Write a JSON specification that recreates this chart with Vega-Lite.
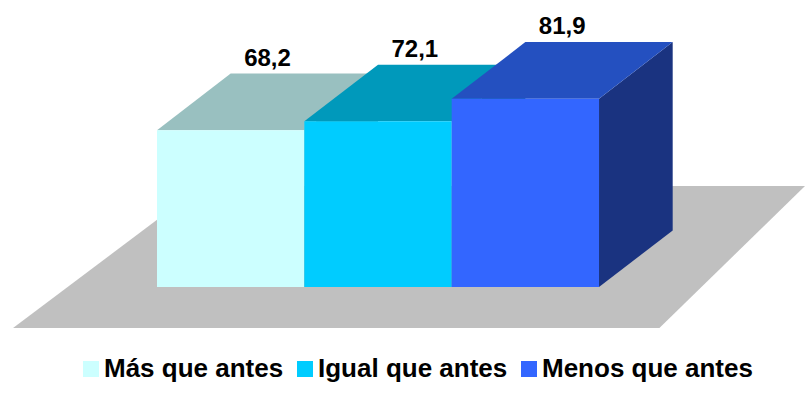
{
  "$schema": "https://vega.github.io/schema/vega-lite/v6.json",
  "width": 805,
  "height": 408,
  "padding": 0,
  "autosize": {"type": "none"},
  "background": "white",
  "config": {"view": {"stroke": null}},
  "datasets": {
    "respuestas": [
      {"categoria": "Más que antes", "valor": 68.2},
      {"categoria": "Igual que antes", "valor": 72.1},
      {"categoria": "Menos que antes", "valor": 81.9}
    ]
  },
  "layer": [
    {
      "data": {"values": [{"parte": "piso"}]},
      "transform": [
        {"calculate": "[0,1]", "as": "k"},
        {"flatten": ["k"]},
        {"calculate": "-17.8 + datum.k*61.7", "as": "fy"},
        {"calculate": "-0.977 + datum.k*1.282", "as": "fx"},
        {"calculate": "3.41 + datum.k*0.988", "as": "fx2"}
      ],
      "mark": {"type": "area", "orient": "horizontal", "color": "#C0C0C0"},
      "encoding": {
        "y": {"field": "fy", "type": "quantitative", "scale": {"domain": [-52.6, 124.8], "nice": false, "zero": false}, "axis": null},
        "x": {"field": "fx", "type": "quantitative", "scale": {"domain": [-1.0656, 4.398], "nice": false, "zero": false}, "axis": null},
        "x2": {"field": "fx2"}
      }
    },
    {
      "data": {"name": "respuestas"},
      "transform": [
        {"window": [{"op": "row_number", "as": "rn"}]},
        {"calculate": "datum.rn - 1", "as": "i"},
        {"calculate": "[0,1]", "as": "k"},
        {"flatten": ["k"]},
        {"calculate": "datum.i + 1 + datum.k*0.5", "as": "sx"},
        {"calculate": "datum.k*24.6", "as": "sy"},
        {"calculate": "datum.valor + datum.k*24.6", "as": "sy2"}
      ],
      "mark": {"type": "area"},
      "encoding": {
        "x": {"field": "sx", "type": "quantitative", "scale": {"domain": [-1.0656, 4.398], "nice": false, "zero": false}, "axis": null},
        "y": {"field": "sy", "type": "quantitative", "scale": {"domain": [-52.6, 124.8], "nice": false, "zero": false}, "axis": null},
        "y2": {"field": "sy2"},
        "color": {"field": "categoria", "type": "nominal", "legend": null,
          "scale": {"domain": ["Más que antes", "Igual que antes", "Menos que antes"], "range": ["#669999", "#007799", "#1A3380"]}}
      }
    },
    {
      "data": {"name": "respuestas"},
      "transform": [
        {"window": [{"op": "row_number", "as": "rn"}]},
        {"calculate": "datum.rn - 1", "as": "i"},
        {"calculate": "[0,1]", "as": "k"},
        {"flatten": ["k"]},
        {"calculate": "datum.valor + datum.k*24.6", "as": "ty"},
        {"calculate": "datum.i + datum.k*0.5", "as": "tx"},
        {"calculate": "datum.tx + 1", "as": "tx2"}
      ],
      "mark": {"type": "area", "orient": "horizontal"},
      "encoding": {
        "y": {"field": "ty", "type": "quantitative", "scale": {"domain": [-52.6, 124.8], "nice": false, "zero": false}, "axis": null},
        "x": {"field": "tx", "type": "quantitative", "scale": {"domain": [-1.0656, 4.398], "nice": false, "zero": false}, "axis": null},
        "x2": {"field": "tx2"},
        "color": {"field": "categoria", "type": "nominal", "legend": null,
          "scale": {"domain": ["Más que antes", "Igual que antes", "Menos que antes"], "range": ["#99C0C0", "#0099BB", "#2450C0"]}}
      }
    },
    {
      "data": {"name": "respuestas"},
      "transform": [
        {"window": [{"op": "row_number", "as": "rn"}]},
        {"calculate": "datum.rn - 1", "as": "i"},
        {"calculate": "datum.i + 1", "as": "i1"}
      ],
      "mark": {"type": "rect"},
      "encoding": {
        "x": {"field": "i", "type": "quantitative", "scale": {"domain": [-1.0656, 4.398], "nice": false, "zero": false}, "axis": null},
        "x2": {"field": "i1"},
        "y": {"field": "valor", "type": "quantitative", "scale": {"domain": [-52.6, 124.8], "nice": false, "zero": false}, "axis": null},
        "y2": {"datum": 0},
        "color": {"field": "categoria", "type": "nominal",
          "scale": {"domain": ["Más que antes", "Igual que antes", "Menos que antes"], "range": ["#CCFFFF", "#00CCFF", "#3366FF"]},
          "legend": {"orient": "none", "legendX": 78, "legendY": 356, "direction": "horizontal", "title": null,
            "symbolType": "square", "symbolSize": 256, "symbolStrokeWidth": 0, "symbolOpacity": 1,
            "labelFont": "Liberation Sans", "labelFontSize": 26, "labelFontWeight": "bold", "labelColor": "#000000",
            "labelOffset": 0, "columnPadding": 8, "labelLimit": 400}}
      }
    },
    {
      "data": {"name": "respuestas"},
      "transform": [
        {"window": [{"op": "row_number", "as": "rn"}]},
        {"calculate": "datum.rn - 1 + 0.75", "as": "lx"},
        {"calculate": "datum.valor + 24.6", "as": "ly"},
        {"calculate": "replace(format(datum.valor, '.1f'), '.', ',')", "as": "etiqueta"}
      ],
      "mark": {"type": "text", "font": "Liberation Sans", "fontSize": 24, "fontWeight": "bold", "color": "#000000", "align": "center", "baseline": "alphabetic", "dy": -8},
      "encoding": {
        "x": {"field": "lx", "type": "quantitative", "scale": {"domain": [-1.0656, 4.398], "nice": false, "zero": false}, "axis": null},
        "y": {"field": "ly", "type": "quantitative", "scale": {"domain": [-52.6, 124.8], "nice": false, "zero": false}, "axis": null},
        "text": {"field": "etiqueta"}
      }
    }
  ],
  "resolve": {"scale": {"color": "independent"}}
}
